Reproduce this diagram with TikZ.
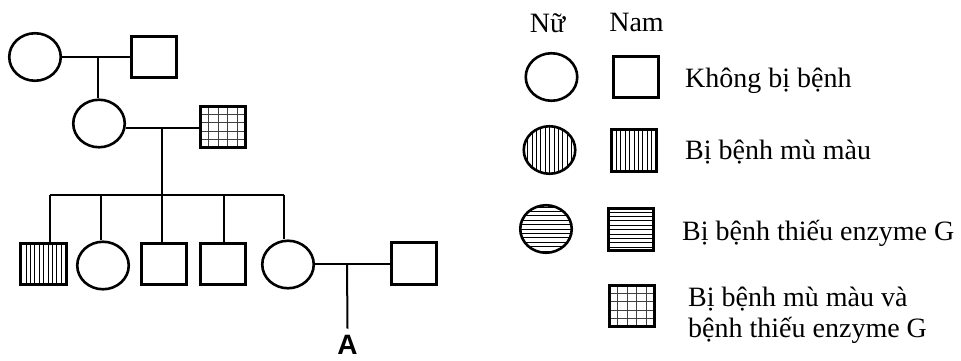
\documentclass[tikz,border=0pt]{standalone}
\usepackage{fontspec}
\setmainfont{Liberation Serif}
\newfontfamily\arialfont{Liberation Sans}
\usetikzlibrary{shapes.geometric}
\tikzset{
  hatchline/.style={line width=0.7pt},
  gridline/.style={line width=0.9pt, black!75},
  fem/.style={ellipse, draw, line width=2.6pt, inner sep=0pt, minimum width=51.5pt, minimum height=47.5pt},
  mal/.style={rectangle, draw, line width=2.6pt, inner sep=0pt, minimum width=45.5pt, minimum height=41.5pt},
  conn/.style={line width=2pt},
  vhatch/.style={path picture={\foreach \i in {-6,...,6}{\draw[hatchline] ([xshift={\i*4.4pt}]path picture bounding box.north) -- ([xshift={\i*4.4pt}]path picture bounding box.south);}}},
  hhatch/.style={path picture={\foreach \i in {-6,...,6}{\draw[hatchline] ([yshift={\i*4.4pt}]path picture bounding box.west) -- ([yshift={\i*4.4pt}]path picture bounding box.east);}}},
  ghatch/.style={line width=3.2pt, path picture={\foreach \i in {-1.5,-0.5,0.5,1.5}{\draw[gridline] ([xshift={\i*9.4pt}]path picture bounding box.north) -- ([xshift={\i*9.4pt}]path picture bounding box.south);\draw[gridline] ([yshift={\i*8.6pt}]path picture bounding box.west) -- ([yshift={\i*8.6pt}]path picture bounding box.east);}}},
  lbl/.style={font=\fontsize{28}{31}\selectfont, inner sep=0pt, anchor=base west, align=left},
  hdr/.style={font=\fontsize{28}{31}\selectfont, inner sep=0pt, anchor=base},
}
\begin{document}
\begin{tikzpicture}[x=1pt,y=-1pt]
\useasboundingbox (0,0) rectangle (961,361);
% Generation I
\node[fem] (c1) at (35,57) {};
\node[mal] (s1) at (154,57) {};
% Generation II
\node[fem] (c2) at (99,123.5) {};
\node[mal, ghatch] (s2) at (223,127) {};
% Generation III
\node[mal, vhatch] (k1) at (43.5,264) {};
\node[fem] (k2) at (103,265.5) {};
\node[mal] (k3) at (164,264) {};
\node[mal] (k4) at (223,264) {};
\node[fem] (k5) at (288,264.5) {};
\node[mal] (s3) at (414,263.5) {};
\node[font=\arialfont\bfseries\fontsize{28}{28}\selectfont, inner sep=0pt, anchor=base] (A) at (347.5,354) {A};
% connectors
\coordinate (m1) at (98,57);
\coordinate (m2) at (162,128);
\coordinate (m3) at (347,264);
\coordinate (sibA) at (50,195);
\coordinate (sibB) at (101,195);
\coordinate (sibC) at (162,195);
\coordinate (sibD) at (224,195);
\coordinate (sibE) at (284,195);
\draw[conn] (c1.east) -- (s1.west);
\draw[conn] (m1) -- (m1 |- c2.north);
\draw[conn] (c2.east |- m2) -- (s2.west |- m2);
\draw[conn] (m2) -- (sibC);
\draw[conn] (sibA) -- (sibE);
\draw[conn] (sibA) -- (sibA |- k1.north);
\draw[conn] (sibB) -- (sibB |- k2.north);
\draw[conn] (sibC) -- (sibC |- k3.north);
\draw[conn] (sibD) -- (sibD |- k4.north);
\draw[conn] (sibE) -- (sibE |- k5.north);
\draw[conn] (k5.east |- m3) -- (s3.west |- m3);
\draw[conn] (m3) -- ([yshift=6pt]A.north);
% Legend
\node[hdr] (nu) at (547.5,33) {Nữ};
\node[hdr] (nam) at (636.5,32) {Nam};
\node[fem] (lc1) at (551.5,77) {};
\node[mal] (ls1) at (636,77) {};
\node[lbl] (t1) at (685,87) {Không bị bệnh};
\node[fem, vhatch] (lc2) at (549.5,150) {};
\node[mal, vhatch] (ls2) at (634,150.5) {};
\node[lbl] (t2) at (685,159) {Bị bệnh mù màu};
\node[fem, hhatch] (lc3) at (546,229) {};
\node[mal, hhatch] (ls3) at (631,229.5) {};
\node[lbl] (t3) at (682,240) {Bị bệnh thiếu enzyme G};
\node[mal, ghatch] (ls4) at (632,306) {};
\node[lbl] (t4) at (688,337) {Bị bệnh mù màu và\\bệnh thiếu enzyme G};
\end{tikzpicture}
\end{document}
